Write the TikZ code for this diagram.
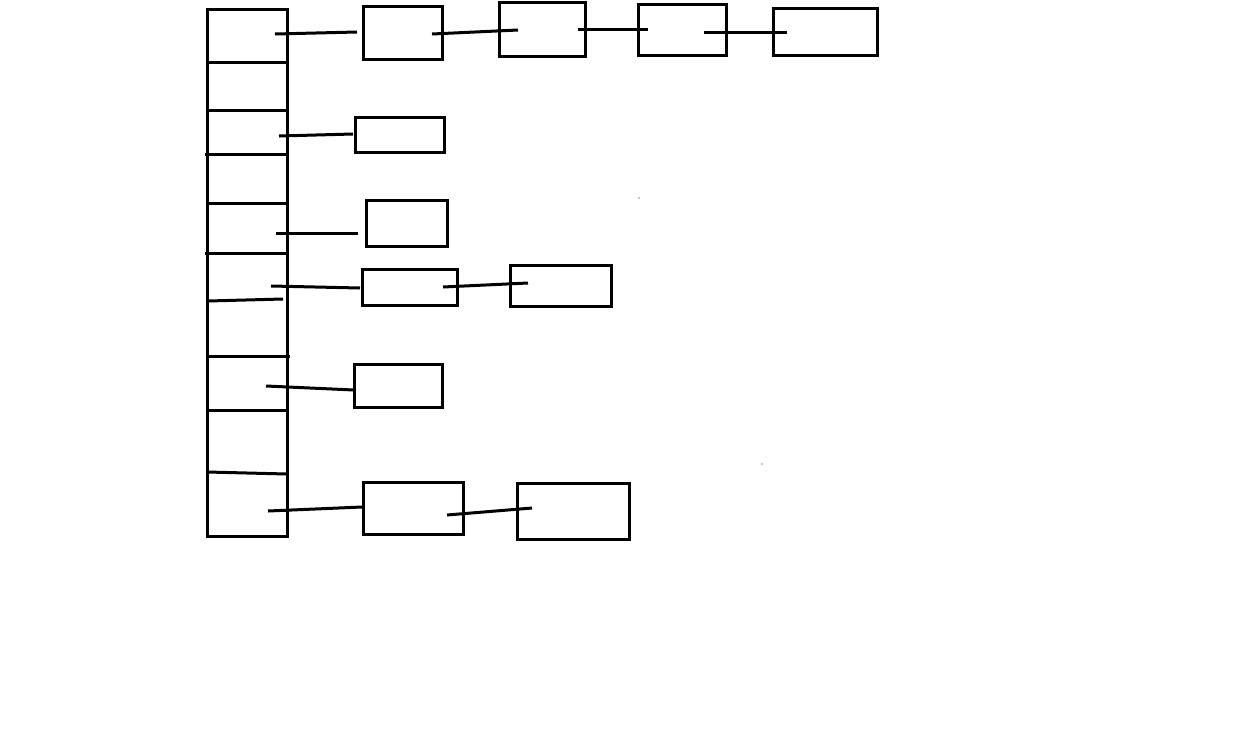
\documentclass[tikz,border=0pt]{standalone}
\begin{document}
\begin{tikzpicture}[x=1pt,y=-1pt,line width=3pt,
  box/.style={draw,line width=3pt,inner sep=0pt,outer sep=0pt},
  link/.style={draw,line width=3pt}]
\useasboundingbox (0,0) rectangle (1245,740);
% table
\node[box,minimum width=80pt,minimum height=527pt] (tbl) at (247,272.5) {};
\coordinate (d1a) at (207,62);  \coordinate (d1b) at (289,62);
\coordinate (d2a) at (207,110); \coordinate (d2b) at (289,110);
\coordinate (d3a) at (205,154); \coordinate (d3b) at (289,154);
\coordinate (d4a) at (207,203); \coordinate (d4b) at (287,203);
\coordinate (d5a) at (205,253); \coordinate (d5b) at (287,253);
\coordinate (d6a) at (208,301); \coordinate (d6b) at (283,299);
\coordinate (d7a) at (207,356); \coordinate (d7b) at (290,356);
\coordinate (d8a) at (207,410); \coordinate (d8b) at (287,410);
\coordinate (d9a) at (207,472); \coordinate (d9b) at (287,474);
\foreach \i in {1,...,9} \draw[link] (d\i a) -- (d\i b);
% chain boxes
\node[box,minimum width=79pt,minimum height=53pt] (b11) at (402.5,32.5) {};
\node[box,minimum width=86pt,minimum height=54pt] (b12) at (542,29) {};
\node[box,minimum width=88pt,minimum height=51pt] (b13) at (682,29.5) {};
\node[box,minimum width=104pt,minimum height=47pt] (b14) at (825,31.5) {};
\node[box,minimum width=89pt,minimum height=35pt] (b21) at (399.5,134.5) {};
\node[box,minimum width=81pt,minimum height=46pt] (b31) at (406.5,223) {};
\node[box,minimum width=95pt,minimum height=36pt] (b41) at (409.5,287) {};
\node[box,minimum width=101pt,minimum height=41pt] (b42) at (560.5,285.5) {};
\node[box,minimum width=88pt,minimum height=43pt] (b51) at (398,385.5) {};
\node[box,minimum width=100pt,minimum height=52pt] (b61) at (413,508) {};
\node[box,minimum width=112pt,minimum height=56pt] (b62) at (573,511) {};
% connector end points
\coordinate (s11) at (275,34);  \coordinate (e11) at (357,32);
\coordinate (s12) at (432,34);  \coordinate (e12) at (518,30);
\coordinate (s13) at (578,29);  \coordinate (e13) at (648,29);
\coordinate (s14) at (704,32);  \coordinate (e14) at (787,32);
\coordinate (s21) at (279,136); \coordinate (e21) at (353,134);
\coordinate (s31) at (276,233); \coordinate (e31) at (358,233);
\coordinate (s41) at (271,286); \coordinate (e41) at (360,288);
\coordinate (s42) at (443,287); \coordinate (e42) at (528,283);
\coordinate (s51) at (266,386); \coordinate (e51) at (354,390);
\coordinate (s61) at (268,511); \coordinate (e61) at (362,507);
\coordinate (s62) at (447,515); \coordinate (e62) at (532,508);
\foreach \c in {11,12,13,14,21,31,41,42,51,61,62} \draw[link] (s\c) -- (e\c);
% stray dots
\coordinate (p1) at (639,198); \coordinate (p2) at (762,464);
\fill (p1) circle (0.7pt);
\fill (p2) circle (0.7pt);
\end{tikzpicture}
\end{document}
